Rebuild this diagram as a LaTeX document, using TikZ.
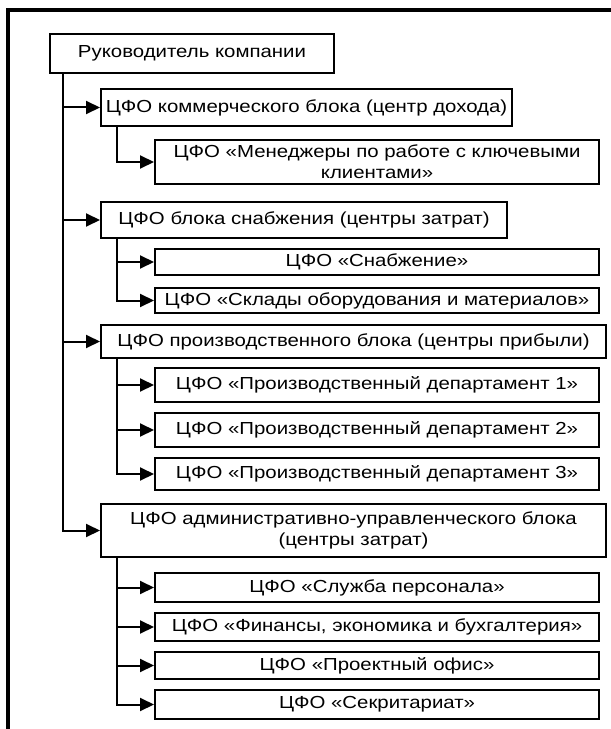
\documentclass[tikz,border=0pt]{standalone}
\usepackage{fontspec}
\setmainfont{Liberation Sans}[FakeStretch=1.17]
\usetikzlibrary{arrows.meta, positioning}
\tikzset{
	blk/.style={draw, line width=2bp, inner sep=0pt, align=center, anchor=west,
		font=\fontsize{17.5}{21}\selectfont},
	sub/.style={blk, minimum width=444bp},
	link/.style={line width=2bp, -{Triangle[length=14bp, width=13bp]}}
}

\begin{document}
\begin{tikzpicture}[x=1bp, y=-1bp]
	\useasboundingbox (0,0) rectangle (611,729);
	% frame (open at the right and at the bottom)
	\draw[line width=4bp] (8,729) -- (8,10) -- (611,10);
	% head
	\node[blk, minimum width=284bp, minimum height=39bp] (head) at (49,53.5) {Руководитель компании};
	\coordinate (trunk) at ([xshift=14bp]head.south west);
	% first level
	\node[blk, minimum width=411bp, minimum height=37bp] (com) at (100,107.5) {ЦФО коммерческого блока (центр дохода)};
	\node[blk, minimum width=406bp, minimum height=36bp] (sup) at (100,220) {ЦФО блока снабжения (центры затрат)};
	\node[blk, minimum width=505bp, minimum height=33bp] (prod) at (100,341.5) {ЦФО производственного блока (центры прибыли)};
	\node[blk, minimum width=505bp, minimum height=53bp] (adm) at (100,530.5) {ЦФО административно-управленческого блока\\(центры затрат)};
	% second level
	\node[sub, minimum height=44bp] (mgr) at (154,162) {ЦФО «Менеджеры по работе с ключевыми\\клиентами»};
	\node[sub, minimum height=26bp] (sup1) at (154,262) {ЦФО «Снабжение»};
	\node[sub, minimum height=25bp] (sup2) at (154,300.5) {ЦФО «Склады оборудования и материалов»};
	\node[sub, minimum height=34bp] (pd1) at (154,385) {ЦФО «Производственный департамент 1»};
	\node[sub, minimum height=34bp] (pd2) at (154,430) {ЦФО «Производственный департамент 2»};
	\node[sub, minimum height=32bp] (pd3) at (154,474) {ЦФО «Производственный департамент 3»};
	\node[sub, minimum height=29bp] (hr) at (154,587.5) {ЦФО «Служба персонала»};
	\node[sub, minimum height=28bp] (fin) at (154,627) {ЦФО «Финансы, экономика и бухгалтерия»};
	\node[sub, minimum height=27bp] (pmo) at (154,665.5) {ЦФО «Проектный офис»};
	\node[sub, minimum height=29bp] (sec) at (154,704.5) {ЦФО «Секритариат»};
	% links from the head
	\foreach \b in {com, sup, prod, adm}
		\draw[link] (trunk) |- (\b.west);
	% links inside the blocks
	\foreach \p/\c in {com/mgr, sup/sup1, sup/sup2, prod/pd1, prod/pd2, prod/pd3, adm/hr, adm/fin, adm/pmo, adm/sec}
		\draw[link] ([xshift=17bp]\p.south west) |- (\c.west);
\end{tikzpicture}
\end{document}
